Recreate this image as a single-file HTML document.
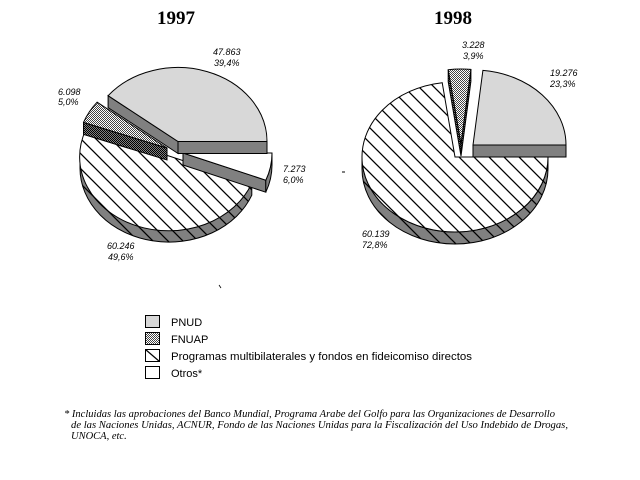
<!DOCTYPE html>
<html>
<head>
<meta charset="utf-8">
<style>
html,body{margin:0;padding:0;background:#fff;}
svg{display:block;}
.lbl{font-family:"Liberation Sans",Arial,sans-serif;font-style:italic;font-size:9px;fill:#000;}
.ttl{font-family:"Liberation Serif","Times New Roman",serif;font-weight:bold;font-size:19px;fill:#000;}
.leg{font-family:"Liberation Sans",Arial,sans-serif;font-size:11px;fill:#000;}
.fn{font-family:"Liberation Serif","Times New Roman",serif;font-style:italic;font-size:10.5px;fill:#000;}
</style>
</head>
<body>
<svg width="640" height="480" viewBox="0 0 640 480" xmlns="http://www.w3.org/2000/svg">
<defs>
  <pattern id="hl" patternUnits="userSpaceOnUse" width="15" height="15" x="2" y="0">
    <path d="M-1,-1 L16,16 M-1,14 L1,16 M14,-1 L16,1" stroke="#000" stroke-width="1.3" fill="none"/>
  </pattern>
  <pattern id="ck" patternUnits="userSpaceOnUse" width="2" height="2">
    <rect width="2" height="2" fill="#fff"/>
    <rect width="1" height="1" fill="#444"/>
    <rect x="1" y="1" width="1" height="1" fill="#444"/>
  </pattern>
  <pattern id="ckd" patternUnits="userSpaceOnUse" width="2" height="2">
    <rect width="2" height="2" fill="#808080"/>
    <rect width="1" height="1" fill="#000"/>
    <rect x="1" y="1" width="1" height="1" fill="#000"/>
  </pattern>
</defs>

<rect width="640" height="480" fill="#fff"/>

<!-- Titles -->
<text class="ttl" x="176" y="24" text-anchor="middle">1997</text>
<text class="ttl" x="453" y="24" text-anchor="middle">1998</text>

<!-- ===== 1997 ===== -->
<path d="M80,156 A89,74 0 0,0 251.8,183.2 L251.8,195.2 A89,74 0 0,1 80,168 Z" fill="#808080"/>
<path d="M80,156 A89,74 0 0,0 251.8,183.2 L251.8,195.2 A89,74 0 0,1 80,168 Z" fill="url(#hl)" stroke="#000" stroke-width="1"/>
<path d="M169,156 L85.5,130.4 A89,74 0 0,0 251.8,183.2 Z" fill="#fff"/>
<path d="M169,156 L85.5,130.4 A89,74 0 0,0 251.8,183.2 Z" fill="url(#hl)" stroke="#000" stroke-width="1"/>

<!-- Otros -->
<path d="M183,153 L265.8,180.2 L265.8,192.2 L183,165 Z" fill="#808080" stroke="#000" stroke-width="1"/>
<path d="M265.8,180.2 A89,74 0 0,0 272,153 L272,165 A89,74 0 0,1 265.8,192.2 Z" fill="#808080" stroke="#000" stroke-width="1"/>
<path d="M183,153 L265.8,180.2 A89,74 0 0,0 272,153 Z" fill="#fff" stroke="#000" stroke-width="1"/>

<!-- PNUD -->
<path d="M178,141.5 L108.1,95.7 L108.1,107.7 L178,153.5 Z" fill="#808080" stroke="#000" stroke-width="1"/>
<path d="M178,141.5 L267,141.5 L267,153.5 L178,153.5 Z" fill="#808080" stroke="#000" stroke-width="1"/>
<path d="M178,141.5 L267,141.5 A89,74 0 0,0 108.1,95.7 Z" fill="#d8d8d8" stroke="#000" stroke-width="1"/>

<!-- FNUAP -->
<path d="M167,148 L83.5,122.4 L83.5,134.4 L167,160 Z" fill="url(#ckd)" stroke="#000" stroke-width="1"/>
<path d="M167,148 L97.1,102.2 A89,74 0 0,0 83.5,122.4 Z" fill="url(#ck)" stroke="#000" stroke-width="1"/>

<!-- 1997 labels -->
<text class="lbl" x="213" y="55">47.863</text>
<text class="lbl" x="214" y="66">39,4%</text>
<text class="lbl" x="58" y="95">6.098</text>
<text class="lbl" x="58" y="105">5,0%</text>
<text class="lbl" x="283" y="172">7.273</text>
<text class="lbl" x="283" y="183">6,0%</text>
<text class="lbl" x="107" y="249">60.246</text>
<text class="lbl" x="108" y="260">49,6%</text>
<path d="M219,285 L221,288" stroke="#000" stroke-width="0.8"/>

<!-- ===== 1998 ===== -->
<path d="M362,157 A93,75 0 0,0 548,157 L548,169 A93,75 0 0,1 362,169 Z" fill="#808080"/>
<path d="M362,157 A93,75 0 0,0 548,157 L548,169 A93,75 0 0,1 362,169 Z" fill="url(#hl)" stroke="#000" stroke-width="1"/>
<path d="M455,157 L442.2,82.7 A93,75 0 1,0 548,157 Z" fill="#fff"/>
<path d="M455,157 L442.2,82.7 A93,75 0 1,0 548,157 Z" fill="url(#hl)" stroke="#000" stroke-width="1"/>

<!-- PNUD -->
<path d="M473,145 L566,145 L566,157 L473,157 Z" fill="#808080" stroke="#000" stroke-width="1"/>
<path d="M473,145 L566,145 A93,75 0 0,0 482.9,70.4 Z" fill="#d8d8d8" stroke="#000" stroke-width="1"/>

<!-- FNUAP -->
<path d="M461,144 L448.2,69.7 L448.2,81.7 L461,156 Z" fill="url(#ckd)" stroke="#000" stroke-width="1"/>
<path d="M461,144 L470.9,69.4 L470.9,81.4 L461,156 Z" fill="url(#ckd)" stroke="#000" stroke-width="1"/>
<path d="M461,144 L470.9,69.4 A93,75 0 0,0 448.2,69.7 Z" fill="url(#ck)" stroke="#000" stroke-width="1"/>

<!-- 1998 labels -->
<text class="lbl" x="462" y="48">3.228</text>
<text class="lbl" x="463" y="59">3,9%</text>
<text class="lbl" x="550" y="76">19.276</text>
<text class="lbl" x="550" y="87">23,3%</text>
<text class="lbl" x="362" y="237">60.139</text>
<text class="lbl" x="362" y="248">72,8%</text>
<path d="M342,172 L345,172" stroke="#000" stroke-width="1"/>

<!-- ===== Legend ===== -->
<rect x="145.5" y="315.5" width="14" height="12" fill="#d8d8d8" stroke="#000" stroke-width="1"/>
<rect x="145.5" y="332.5" width="14" height="12" fill="url(#ck)" stroke="#000" stroke-width="1"/>
<rect x="145.5" y="349.5" width="14" height="12" fill="#fff" stroke="#000" stroke-width="1"/>
<path d="M145.5,349.5 L159.5,361.5" stroke="#000" stroke-width="1.2"/>
<rect x="145.5" y="366.5" width="14" height="12" fill="#fff" stroke="#000" stroke-width="1"/>

<text class="leg" x="171" y="326">PNUD</text>
<text class="leg" x="171" y="343">FNUAP</text>
<text class="leg" x="171" y="360" textLength="301" lengthAdjust="spacingAndGlyphs">Programas multibilaterales y fondos en fideicomiso directos</text>
<text class="leg" x="171" y="377">Otros*</text>

<!-- ===== Footnote ===== -->
<text class="fn" x="64" y="417" textLength="491" lengthAdjust="spacingAndGlyphs">* Incluidas las aprobaciones del Banco Mundial, Programa Arabe del Golfo para las Organizaciones de Desarrollo</text>
<text class="fn" x="71" y="428" textLength="497" lengthAdjust="spacingAndGlyphs">de las Naciones Unidas, ACNUR, Fondo de las Naciones Unidas para la Fiscalización del Uso Indebido de Drogas,</text>
<text class="fn" x="71" y="439">UNOCA, etc.</text>
</svg>
</body>
</html>
